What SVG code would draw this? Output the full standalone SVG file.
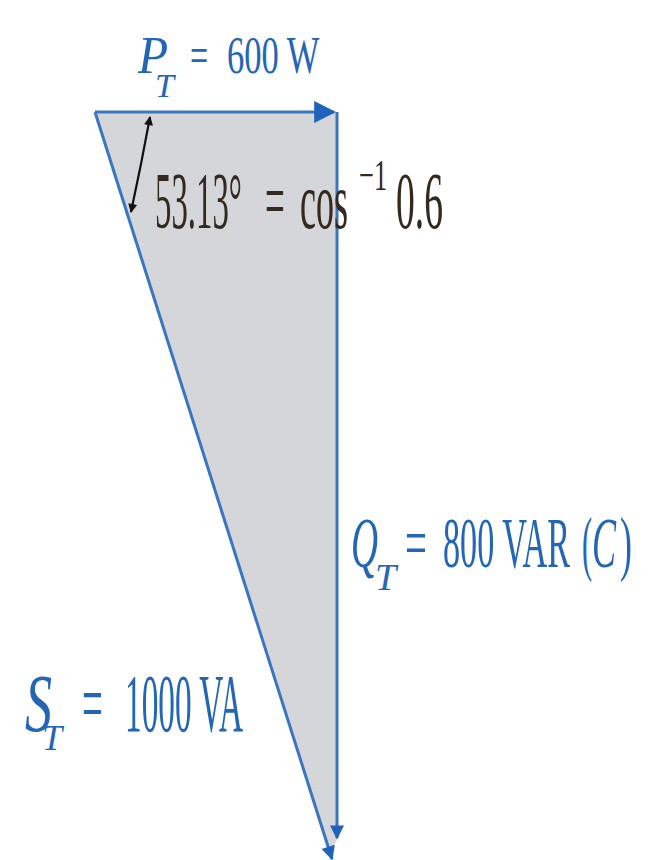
<svg xmlns="http://www.w3.org/2000/svg" width="653" height="860" viewBox="0 0 653 860">
<style>
.t{font-family:"Liberation Serif","Times New Roman",serif;fill:#2466b6}
.a{font-family:"Liberation Serif","Times New Roman",serif;fill:#33291f}
.i{font-style:italic}
.ln{stroke:#3a76c0;stroke-width:3;fill:none}
</style>
<defs>
<marker id="ah" viewBox="0 0 10 10" refX="9" refY="5" markerWidth="22" markerHeight="22" markerUnits="userSpaceOnUse" orient="auto"><path d="M0,0 L10,5 L0,10 z" fill="#1f63bd"/></marker>
<marker id="ahv" viewBox="0 0 10 10" refX="9" refY="5" markerWidth="26" markerHeight="14" markerUnits="userSpaceOnUse" orient="auto"><path d="M0,0 L10,5 L0,10 z" fill="#1f63bd"/></marker>
<marker id="ak" viewBox="0 0 10 10" refX="9" refY="5" markerWidth="18" markerHeight="9" markerUnits="userSpaceOnUse" orient="auto-start-reverse"><path d="M0,0 L10,5 L0,10 z" fill="#111"/></marker>
</defs>
<g id="triangle">
<polygon points="95,112 337,112 337,840 330,852" fill="#d4d6d9"/>
</g>
<g id="connectors">
<line class="ln" x1="95" y1="112" x2="334" y2="112" stroke-width="3.5" marker-end="url(#ah)"/>
<line class="ln" x1="337" y1="112" x2="337" y2="838" marker-end="url(#ahv)"/>
<line class="ln" x1="95" y1="112" x2="332" y2="859" marker-end="url(#ahv)"/>
<path d="M150,117 Q141,166 131,212" stroke="#111" stroke-width="2.2" fill="none" marker-start="url(#ak)" marker-end="url(#ak)"/>
</g>
<g id="label-P">
<text class="t i" transform="translate(138,73) scale(0.95,1)" font-size="52">P</text>
<text class="t i" transform="translate(155,97)" font-size="34">T</text>
<text class="t" transform="translate(190,73) scale(0.62,1)" font-size="52">=</text>
<text class="t" transform="translate(227,73) scale(0.664,1)" font-size="52">600 W</text>
</g>
<g id="label-angle">
<text class="a" transform="translate(155,228) scale(0.41,1)" font-size="80">53.13°</text>
<text class="a" transform="translate(265,228) scale(0.44,1)" font-size="80">=</text>
<text class="a" transform="translate(300,228) scale(0.45,1)" font-size="80">cos</text>
<text class="a" transform="translate(359,190) scale(0.6,1)" font-size="44">−1</text>
<text class="a" transform="translate(396,228) scale(0.47,1)" font-size="80">0.6</text>
</g>
<g id="label-Q">
<text class="t i" transform="translate(351,567) scale(0.52,1)" font-size="72">Q</text>
<text class="t i" transform="translate(375,590)" font-size="38">T</text>
<text class="t" transform="translate(405,567) scale(0.54,1)" font-size="72">=</text>
<text class="t" transform="translate(443,567) scale(0.475,1)" font-size="72">800 VAR</text>
<text class="t" transform="translate(582,567) scale(0.42,1)" font-size="72">(</text>
<text class="t i" transform="translate(592,567) scale(0.5,1)" font-size="72">C</text>
<text class="t" transform="translate(620,567) scale(0.5,1)" font-size="72">)</text>
</g>
<g id="label-S">
<text class="t i" transform="translate(25,731) scale(0.66,1)" font-size="82">S</text>
<text class="t i" transform="translate(42,750)" font-size="36">T</text>
<text class="t" transform="translate(82,731) scale(0.45,1)" font-size="82">=</text>
<text class="t" transform="translate(125,731) scale(0.406,1)" font-size="82">1000 VA</text>
</g>
</svg>
